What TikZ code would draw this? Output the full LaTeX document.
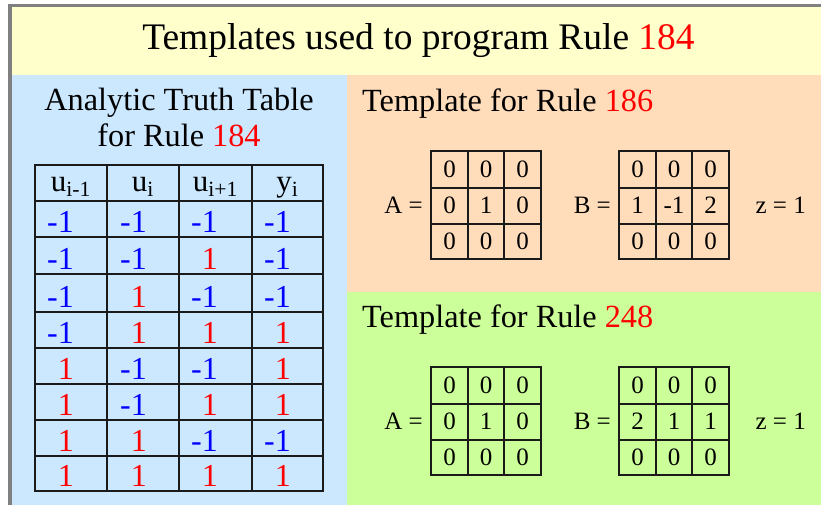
\documentclass[tikz,border=0pt]{standalone}
\usepackage{fontspec}
\setmainfont{Liberation Serif}
\definecolor{bgyellow}{HTML}{FFFFCC}
\definecolor{bgblue}{HTML}{CCE8FF}
\definecolor{bgorange}{HTML}{FFDDBB}
\definecolor{bggreen}{HTML}{CCFF99}
\definecolor{edgegray}{HTML}{808080}
\definecolor{numred}{HTML}{FF0000}
\definecolor{numblue}{HTML}{0000FF}
\definecolor{gridline}{HTML}{1A1A1A}
\begin{document}
\begin{tikzpicture}[x=1pt,y=-1pt,
  bigtitle/.style={inner sep=0pt,anchor=base,font=\fontsize{37.5}{42}\selectfont},
  paneltitle/.style={inner sep=0pt,anchor=base west,font=\fontsize{32.3}{36}\selectfont},
  tabtitle/.style={inner sep=0pt,anchor=base,font=\fontsize{32.3}{36}\selectfont},
  cellnum/.style={inner sep=0pt,anchor=base east,font=\fontsize{32}{36}\selectfont},
  headcell/.style={inner sep=0pt,anchor=base,font=\fontsize{31}{35}\selectfont},
  matnum/.style={inner sep=0pt,anchor=base,font=\fontsize{25}{28}\selectfont},
  matlabel/.style={inner sep=0pt,anchor=base east,font=\fontsize{25}{28}\selectfont},
  tabgrid/.style={draw=gridline,line width=2.2pt},
  matgrid/.style={draw=gridline,line width=1.6pt}]
\useasboundingbox (0,0) rectangle (821,505);
\fill[white] (0,0) rectangle (821,505);
% panels
\fill[bgyellow] (8,4) rectangle (821,75);
\fill[bgblue] (8,75) rectangle (347,505);
\fill[bgorange] (347,75) rectangle (821,292);
\fill[bggreen] (347,292) rectangle (821,505);
\fill[edgegray] (8,4) rectangle (821,7);
\fill[edgegray] (8,4) rectangle (12,505);
% main title
\node[bigtitle] (title) at (418.5,49.5) {Templates used to program Rule \textcolor{numred}{184}};
% truth table title
\node[tabtitle] (tt1) at (179,111) {Analytic Truth Table};
\node[tabtitle] (tt2) at (179,147) {for Rule \textcolor{numred}{184}};
% truth table grid
\draw[tabgrid] (35,165) rectangle (323,491);
\foreach \xx in {107,179,252} \draw[tabgrid] (\xx,165) -- (\xx,491);
\foreach \yy in {201,237,274,312,348,384,420,456} \draw[tabgrid] (35,\yy) -- (323,\yy);
% header
\node[headcell] (h1) at (71,191) {u\textsubscript{i-1}};
\node[headcell] (h2) at (143,191) {u\textsubscript{i}};
\node[headcell] (h3) at (215.5,191) {u\textsubscript{i+1}};
\node[headcell] (h4) at (287.5,191) {y\textsubscript{i}};
% rows
\newcommand{\mone}{\textcolor{numblue}{-1}}
\newcommand{\pone}{\textcolor{numred}{1}}
\foreach \yb/\a/\b/\c/\d [count=\r from 0] in {
  237/\mone/\mone/\mone/\mone,
  274/\mone/\mone/\pone/\mone,
  312/\mone/\pone/\mone/\mone,
  348/\mone/\pone/\pone/\pone,
  384/\pone/\mone/\mone/\pone,
  420/\pone/\mone/\pone/\pone,
  456/\pone/\pone/\mone/\mone,
  491/\pone/\pone/\pone/\pone}{
  \pgfmathsetmacro{\yy}{\yb-5}
  \node[cellnum] (r\r c1) at (74,\yy) {\a};
  \node[cellnum] (r\r c2) at (147,\yy) {\b};
  \node[cellnum] (r\r c3) at (218,\yy) {\c};
  \node[cellnum] (r\r c4) at (291,\yy) {\d};
}
% panel titles
\node[paneltitle] (p1) at (362,112) {Template for Rule \textcolor{numred}{186}};
\node[paneltitle] (p2) at (362,327) {Template for Rule \textcolor{numred}{248}};
% matrices
\foreach \top/\tag/\bm in {151/o/{0,0,0,1,-1,2,0,0,0}, 367/g/{0,0,0,2,1,1,0,0,0}}{
  % A grid
  \draw[matgrid] (431,\top) rectangle (541,\top+108);
  \draw[matgrid] (468,\top) -- (468,\top+108);
  \draw[matgrid] (504,\top) -- (504,\top+108);
  \draw[matgrid] (431,\top+37) -- (541,\top+37);
  \draw[matgrid] (431,\top+73) -- (541,\top+73);
  % B grid
  \draw[matgrid] (619,\top) rectangle (729,\top+108);
  \draw[matgrid] (656,\top) -- (656,\top+108);
  \draw[matgrid] (692,\top) -- (692,\top+108);
  \draw[matgrid] (619,\top+37) -- (729,\top+37);
  \draw[matgrid] (619,\top+73) -- (729,\top+73);
  % A entries
  \foreach \v [count=\i from 0] in {0,0,0,0,1,0,0,0,0}{
    \pgfmathtruncatemacro{\cc}{mod(\i,3)}
    \pgfmathtruncatemacro{\rr}{div(\i,3)}
    \node[matnum] (A\tag\i) at ({449.5+36.5*\cc},{\top+26.5+36*\rr}) {\v};
  }
  % B entries
  \foreach \v [count=\i from 0] in \bm{
    \pgfmathtruncatemacro{\cc}{mod(\i,3)}
    \pgfmathtruncatemacro{\rr}{div(\i,3)}
    \node[matnum] (B\tag\i) at ({637.5+36.5*\cc},{\top+26.5+36*\rr}) {\v};
  }
  \node[matlabel] (Al\tag) at (423,\top+62) {A =};
  \node[matlabel] (Bl\tag) at (611,\top+62) {B =};
  \node[matlabel] (zl\tag) at (806,\top+62) {z = 1};
}
\end{tikzpicture}
\end{document}
